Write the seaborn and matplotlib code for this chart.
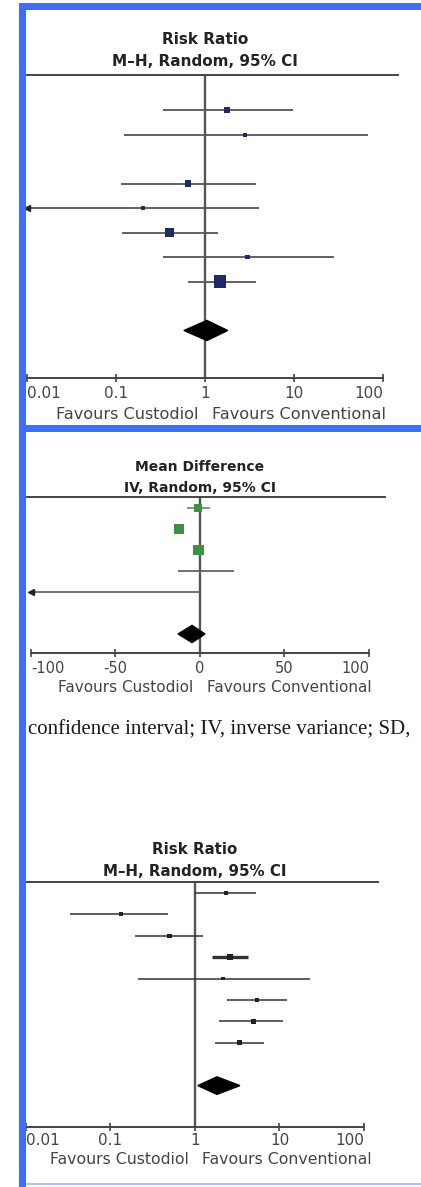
import numpy as np
import pandas as pd
import matplotlib
matplotlib.use("Agg")
import matplotlib.pyplot as plt
from matplotlib.patches import Polygon, Rectangle
from matplotlib.ticker import NullLocator
import seaborn as sns

# ---- data ----
# panel 1: Risk Ratio, M-H, Random (third study not estimable)
rr1_est = [1.77, 2.8, np.nan, 0.64, 0.20, 0.40, 3.0, 1.47]
rr1_lo = [0.34, 0.123, np.nan, 0.114, 0.004, 0.117, 0.34, 0.64]
rr1_hi = [9.7, 68, np.nan, 3.7, 4.0, 1.4, 28, 3.7]
rr1_weight = [10, 4, np.nan, 10, 3, 18, 6, 38]
rr1_pooled = [1.05, 0.58, 1.8]

# panel 2: Mean Difference, IV, Random
md_est = [-1.2, -12.4, -0.7, 3.0, -77]
md_lo = [-7.7, -14.5, -2.0, -13, -150]
md_hi = [5.9, -10.3, 0.6, 20, 0.0]
md_weight = [14, 25, 30, 2, 2]
md_group = ["A", "A", "A", "B", "B"]
md_pooled = [-4.7, -13, 3.0]

# panel 3: Risk Ratio, M-H, Random
rr3_est = [2.33, 0.133, 0.5, 2.6, 2.15, 5.4, 4.9, 3.4]
rr3_lo = [1.0, 0.033, 0.195, 1.58, 0.21, 2.4, 1.9, 1.72]
rr3_hi = [5.3, 0.48, 1.24, 4.2, 23, 12.3, 11, 6.6]
rr3_weight = [5, 4, 5, 8, 3, 5, 5, 6]
rr3_pooled = [1.82, 1.08, 3.4]

rr_ticks = [0.01, 0.1, 1, 10, 100]
rr_labels = ["0.01", "0.1", "1", "10", "100"]
md_ticks = [-100, -50, 0, 50, 100]
md_labels = ["-100", "-50", "0", "50", "100"]

W, H = 421, 1187
sns.set_theme(style="white")
plt.rcParams["font.family"] = ["DejaVu Sans"]

fig = plt.figure(figsize=(W / 100, H / 100), dpi=100)
fig.patch.set_facecolor("white")


def add_panel(left, right, top, bottom):
    return fig.add_axes([left / W, 1 - bottom / H, (right - left) / W, (bottom - top) / H])


def forest(ax, est, lo, hi, weight, pooled, bounds, null, line_color, palette,
           group=None, lw=1.3, thick=None):
    df = pd.DataFrame({"est": est, "lo": lo, "hi": hi, "weight": weight})
    df["row"] = np.arange(len(df))
    df["group"] = group if group is not None else "A"
    df = df.dropna()
    for _, r in df.iterrows():
        c = line_color[r["group"]]
        lwi = thick if (thick is not None and r["weight"] >= 8) else lw
        x0 = max(r["lo"], bounds[0])
        ax.hlines(r["row"], x0, min(r["hi"], bounds[1]), color=c, lw=lwi, zorder=3)
        if r["lo"] < bounds[0]:
            ax.plot(bounds[0], r["row"], marker="<", ms=4.5, color="#222222",
                    zorder=4, clip_on=False)
    sizes = {w: (2 * np.sqrt(w) * 0.72) ** 2 for w in df["weight"].unique()}
    sns.scatterplot(data=df, x="est", y="row", size="weight", sizes=sizes,
                    hue="group", palette=palette, marker="s", linewidth=0,
                    legend=False, ax=ax, zorder=5)
    yd = len(est) + 1
    h = 0.41
    ax.add_patch(Polygon([(pooled[1], yd), (pooled[0], yd - h), (pooled[2], yd),
                          (pooled[0], yd + h)], closed=True, color="black", zorder=6))
    ax.axvline(null, color="#555555", lw=1.7, zorder=2)
    for s in ["left", "right"]:
        ax.spines[s].set_visible(False)
    ax.spines["top"].set_color("#444444")
    ax.spines["top"].set_linewidth(1.4)
    ax.spines["bottom"].set_color("#444444")
    ax.spines["bottom"].set_linewidth(1.4)
    ax.spines["bottom"].set_bounds(*bounds)
    ax.set_yticks([])
    ax.set_xlabel("")
    ax.set_ylabel("")
    ax.set_facecolor("none")


def finish_ticks(ax, ticks, labels, size, pad):
    ax.set_xticks(ticks)
    ax.set_xticklabels(labels)
    ax.xaxis.set_minor_locator(NullLocator())
    ax.tick_params(axis="x", direction="inout", length=6, width=1.2, color="#444444",
                   labelsize=size, labelcolor="#444444", pad=pad, bottom=True)
    tl = ax.get_xticklabels()
    tl[0].set_ha("left")
    tl[-1].set_ha("right")


def headers(ax, null, title, sub, y1, y2, size, fav_y, fav_size):
    ax.annotate(title, xy=(null, 1 - y1 / H), xycoords=("data", "figure fraction"),
                ha="center", va="baseline", fontsize=size, fontweight="bold",
                color="#222222", annotation_clip=False)
    ax.annotate(sub, xy=(null, 1 - y2 / H), xycoords=("data", "figure fraction"),
                ha="center", va="baseline", fontsize=size, fontweight="bold",
                color="#222222", annotation_clip=False)
    ax.annotate("Favours Custodiol", xy=(null, 1 - fav_y / H),
                xycoords=("data", "figure fraction"), xytext=(-4.5, 0),
                textcoords="offset points", ha="right", va="baseline",
                fontsize=fav_size, color="#444444", annotation_clip=False)
    ax.annotate("Favours Conventional", xy=(null, 1 - fav_y / H),
                xycoords=("data", "figure fraction"), xytext=(5, 0),
                textcoords="offset points", ha="left", va="baseline",
                fontsize=fav_size, color="#444444", annotation_clip=False)


# ---- panel 1 ----
ax1 = add_panel(26, 398, 75, 378)
forest(ax1, rr1_est, rr1_lo, rr1_hi, rr1_weight, rr1_pooled, (0.01, 100), 1,
       {"A": "#555555"}, {"A": "#1f2b66"})
ax1.set_xscale("log")
ax1.set_xlim(10 ** ((26 - 205) / 89), 10 ** ((398 - 205) / 89))
ax1.set_ylim((378 - 110) / 24.5, (75 - 110) / 24.5)
finish_ticks(ax1, rr_ticks, rr_labels, 11, 3)
headers(ax1, 1, "Risk Ratio", "M\u2013H, Random, 95% CI", 43.5, 66.5, 11, 419, 11.6)

# ---- panel 2 ----
ax2 = add_panel(26, 385, 497, 653)
forest(ax2, md_est, md_lo, md_hi, md_weight, md_pooled, (-100, 100), 0,
       {"A": "#6a9a6a", "B": "#666666"}, {"A": "#3f8f45", "B": "#777777"},
       group=md_group)
ax2.set_xlim((26 - 200) / 1.69, (385 - 200) / 1.69)
ax2.set_ylim((653 - 508) / 21, (497 - 508) / 21)
finish_ticks(ax2, md_ticks, md_labels, 10.5, 2.6)
headers(ax2, 0, "Mean Difference", "IV, Random, 95% CI", 471, 492, 10, 692, 11)

# ---- panel 3 ----
ax3 = add_panel(25, 378, 882, 1127)
forest(ax3, rr3_est, rr3_lo, rr3_hi, rr3_weight, rr3_pooled, (0.01, 100), 1,
       {"A": "#333333"}, {"A": "#222222"}, lw=1.1, thick=2.4)
ax3.set_xscale("log")
ax3.set_xlim(10 ** ((25 - 195) / 84.5), 10 ** ((378 - 195) / 84.5))
ax3.set_ylim((1127 - 893) / 21.4, (882 - 893) / 21.4)
finish_ticks(ax3, rr_ticks, rr_labels, 11, 1.2)
headers(ax3, 1, "Risk Ratio", "M\u2013H, Random, 95% CI", 854.5, 875.5, 10.8, 1164, 11.3)

# caption fragment between panels
fig.text(28 / W, 1 - 734 / H, "confidence interval; IV, inverse variance; SD,",
         family="Liberation Serif", fontsize=15, color="#1a1a1a",
         ha="left", va="baseline")

# blue frame
blue = "#3d6ef5"
for (x0, y0, w, h, c) in [(19, 3, 7, H - 3, blue), (19, 3, W - 19, 7, blue),
                          (19, 425, W - 19, 7, blue), (26, 1183, W - 26, 2, "#aec4f8")]:
    fig.add_artist(Rectangle((x0 / W, 1 - (y0 + h) / H), w / W, h / H,
                             transform=fig.transFigure, color=c, lw=0, zorder=10))

fig.savefig("out.png", dpi=100)
